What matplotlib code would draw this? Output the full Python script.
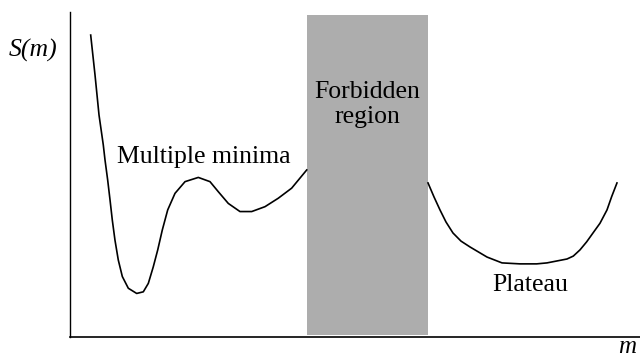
import matplotlib.pyplot as plt

plt.rcParams['font.family'] = ['Liberation Serif', 'DejaVu Serif']

# S(m) on the left of the forbidden region: steep wall, deep well, second shallow well
m_left = [0.363, 0.439, 0.509, 0.584, 0.614, 0.661, 0.702, 0.742, 0.789, 0.847, 0.918,
          1.023, 1.170, 1.286, 1.374, 1.461, 1.539, 1.619, 1.714, 1.842, 2.018, 2.251,
          2.456, 2.602, 2.777, 2.982, 3.188, 3.421, 3.654, 3.889, 4.153]
s_left = [9.29, 8.06, 6.83, 5.91, 5.45, 4.83, 4.22, 3.60, 2.98, 2.37, 1.86,
          1.50, 1.34, 1.39, 1.65, 2.16, 2.68, 3.29, 3.91, 4.42, 4.78, 4.91,
          4.78, 4.47, 4.11, 3.86, 3.86, 4.01, 4.27, 4.58, 5.14]

# S(m) on the right: the plateau
m_right = [6.281, 6.386, 6.491, 6.596, 6.719, 6.860, 7.018, 7.316, 7.579, 7.895, 8.187,
           8.368, 8.719, 8.830, 8.947, 9.065, 9.175, 9.298, 9.421, 9.503, 9.596]
s_right = [4.74, 4.31, 3.91, 3.54, 3.20, 2.95, 2.77, 2.46, 2.28, 2.25, 2.25,
           2.28, 2.40, 2.49, 2.68, 2.93, 3.20, 3.50, 3.91, 4.32, 4.74]

# excluded band of m
forbidden = (4.16, 6.28)
band_top = 9.91

fig = plt.figure(figsize=(6.4, 3.58), dpi=100)
ax = fig.add_axes([70 / 640, 21 / 358, 570 / 640, 325 / 358])
ax.set_xlim(0, 10)
ax.set_ylim(0, 10)

ax.fill_between(forbidden, 0.07, band_top, color='#adadad', linewidth=0)
ax.plot(m_left, s_left, color='black', lw=1.2, solid_joinstyle='round')
ax.plot(m_right, s_right, color='black', lw=1.2, solid_joinstyle='round')

ax.text(2.35, 5.54, 'Multiple minima', fontsize=18.5, ha='center', va='center')
ax.text(5.21, 7.15, 'Forbidden\nregion', fontsize=18.5, ha='center', va='center',
        linespacing=1.2)
ax.text(8.07, 1.6, 'Plateau', fontsize=18.5, ha='center', va='center')
ax.text(-0.65, 8.83, 'S(m)', fontsize=18.5, style='italic', ha='center', va='center',
        clip_on=False)
ax.text(9.77, -0.5, 'm', fontsize=18, style='italic', ha='center', va='baseline',
        clip_on=False)

ax.spines['top'].set_visible(False)
ax.spines['right'].set_visible(False)
ax.spines['left'].set_linewidth(1.0)
ax.spines['bottom'].set_linewidth(1.2)
ax.set_xticks([])
ax.set_yticks([])

fig.savefig('out.png', dpi=100)
